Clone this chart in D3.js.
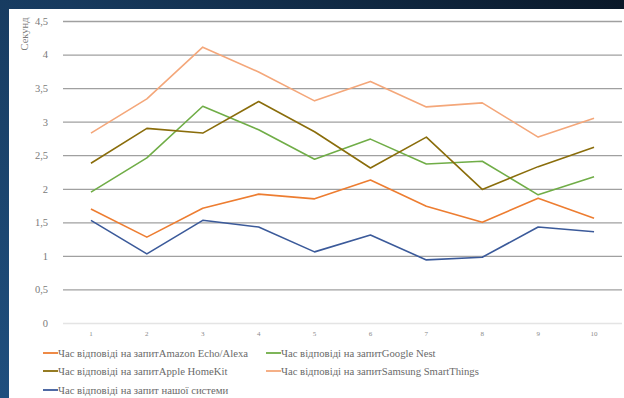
<!DOCTYPE html>
<html>
<head>
<meta charset="utf-8">
<script src="https://cdn.jsdelivr.net/npm/d3@7"></script>
<style>
  body { margin: 0; padding: 0; overflow: hidden; }
  svg { display: block; }
</style>
</head>
<body>
<div id="chart"></div>
<script>
var categories = ["1", "2", "3", "4", "5", "6", "7", "8", "9", "10"];
var yTicks = [0, 0.5, 1, 1.5, 2, 2.5, 3, 3.5, 4, 4.5];

var amazonValues = [1.70, 1.28, 1.71, 1.92, 1.85, 2.13, 1.74, 1.50, 1.86, 1.56];
var googleValues = [1.95, 2.46, 3.23, 2.88, 2.44, 2.74, 2.37, 2.41, 1.91, 2.18];
var appleValues = [2.38, 2.90, 2.83, 3.30, 2.85, 2.31, 2.77, 1.99, 2.33, 2.62];
var samsungValues = [2.83, 3.34, 4.11, 3.74, 3.31, 3.60, 3.22, 3.28, 2.77, 3.05];
var ourValues = [1.53, 1.03, 1.53, 1.43, 1.06, 1.31, 0.94, 0.98, 1.43, 1.36];

var seriesNames = [
    "Час відповіді на запитAmazon Echo/Alexa",
    "Час відповіді на запитGoogle Nest",
    "Час відповіді на запитApple HomeKit",
    "Час відповіді на запитSamsung SmartThings",
    "Час відповіді на запит нашої системи"
];
var seriesColors = ["#ed7d31", "#70ad47", "#8a6d0b", "#f4a77a", "#3b5a9a"];

function drawChart() {
    var width = 624, height = 398;
    var margin = { top: 21, right: 2, bottom: 75, left: 63 };

    var data = [amazonValues, googleValues, appleValues, samsungValues, ourValues].map(function (vals, i) {
        return { name: seriesNames[i], color: seriesColors[i], values: vals };
    });

    var svg = d3.select("#chart")
        .append("svg")
        .attr("width", width)
        .attr("height", height);

    // background frame
    var defs = svg.append("defs");
    var grad = defs.append("linearGradient")
        .attr("id", "bg")
        .attr("x1", "0%").attr("y1", "100%")
        .attr("x2", "100%").attr("y2", "0%");
    grad.append("stop").attr("offset", "0%").attr("stop-color", "#1f4f7e");
    grad.append("stop").attr("offset", "55%").attr("stop-color", "#173a5e");
    grad.append("stop").attr("offset", "100%").attr("stop-color", "#0a1828");
    svg.append("rect")
        .attr("width", width).attr("height", height)
        .attr("fill", "url(#bg)");
    svg.append("rect")
        .attr("x", 9).attr("y", 9)
        .attr("width", width - 9).attr("height", height - 9)
        .attr("fill", "#ffffff");

    var x = d3.scaleBand()
        .domain(categories)
        .range([margin.left, width - margin.right]);
    var y = d3.scaleLinear()
        .domain([0, 4.5])
        .range([height - margin.bottom, margin.top]);

    var fmt = function (d) { return String(d).replace(".", ","); };

    // gridlines
    svg.append("g")
        .selectAll("line")
        .data(yTicks)
        .enter()
        .append("line")
        .attr("x1", margin.left)
        .attr("x2", width - margin.right)
        .attr("y1", function (d) { return y(d) + 0.5; })
        .attr("y2", function (d) { return y(d) + 0.5; })
        .attr("stroke", function (d) { return d === 0 ? "#e4e4e4" : "#a0a0a0"; })
        .attr("stroke-width", 1.3);

    // Y axis
    var yAxis = svg.append("g")
        .attr("transform", "translate(" + (margin.left - 12) + ",0)")
        .call(d3.axisLeft(y).tickValues(yTicks).tickSize(0).tickFormat(fmt));
    yAxis.select(".domain").remove();
    yAxis.selectAll("text")
        .attr("fill", "#7a7a7a")
        .style("font-family", "'Liberation Serif', serif")
        .style("font-size", "10.5px");

    svg.append("text")
        .attr("transform", "translate(28,34) rotate(-90)")
        .style("text-anchor", "middle")
        .style("font-family", "'Liberation Serif', serif")
        .style("font-size", "10.5px")
        .attr("fill", "#7a7a7a")
        .text("Секунд");

    // X axis
    var xAxis = svg.append("g")
        .attr("transform", "translate(0," + (height - margin.bottom + 5) + ")")
        .call(d3.axisBottom(x).tickSize(0));
    xAxis.select(".domain").remove();
    xAxis.selectAll("text")
        .attr("fill", "#8a8a8a")
        .style("font-family", "'Liberation Serif', serif")
        .style("font-size", "7px");

    // lines
    var line = d3.line()
        .x(function (d, i) { return x(categories[i]) + x.bandwidth() / 2; })
        .y(function (d) { return y(d); });

    svg.selectAll("myLines")
        .data(data)
        .enter()
        .append("path")
        .attr("d", function (d) { return line(d.values); })
        .attr("stroke", function (d) { return d.color; })
        .attr("stroke-width", 1.6)
        .attr("stroke-linejoin", "round")
        .attr("fill", "none");

    // legend
    var legendPos = [[43, 353], [266, 353], [43, 371], [266, 371], [43, 390]];
    var legend = svg.selectAll("myLegend")
        .data(data)
        .enter()
        .append("g")
        .attr("transform", function (d, i) {
            return "translate(" + legendPos[i][0] + "," + legendPos[i][1] + ")";
        });
    legend.append("line")
        .attr("x1", 0).attr("x2", 15)
        .attr("y1", 0).attr("y2", 0)
        .attr("stroke", function (d) { return d.color; })
        .attr("stroke-width", 1.8);
    legend.append("text")
        .attr("x", 15)
        .attr("dy", "0.35em")
        .attr("fill", "#6a6a6a")
        .style("font-family", "'Liberation Serif', serif")
        .style("font-size", "10.7px")
        .text(function (d) { return d.name; });
}

drawChart();
</script>
</body>
</html>
